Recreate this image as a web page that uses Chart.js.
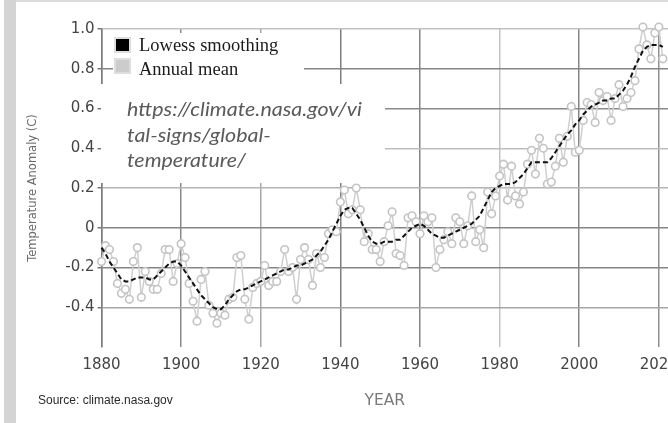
<!DOCTYPE html>
<html>
<head>
<meta charset="utf-8">
<script src="https://cdn.jsdelivr.net/npm/chart.js@4/dist/chart.umd.min.js"></script>
<style>
  html, body { margin: 0; padding: 0; background: #fff; overflow: hidden; width: 668px; height: 423px; }
  #wrap { position: relative; width: 720px; height: 423px; }
</style>
</head>
<body>
<div id="wrap"><canvas id="c" width="720" height="423"></canvas></div>
<script>
// Global land-ocean temperature anomaly (°C, relative to 1951-1980)
const years = [
  1880,1881,1882,1883,1884,1885,1886,1887,1888,1889,
  1890,1891,1892,1893,1894,1895,1896,1897,1898,1899,
  1900,1901,1902,1903,1904,1905,1906,1907,1908,1909,
  1910,1911,1912,1913,1914,1915,1916,1917,1918,1919,
  1920,1921,1922,1923,1924,1925,1926,1927,1928,1929,
  1930,1931,1932,1933,1934,1935,1936,1937,1938,1939,
  1940,1941,1942,1943,1944,1945,1946,1947,1948,1949,
  1950,1951,1952,1953,1954,1955,1956,1957,1958,1959,
  1960,1961,1962,1963,1964,1965,1966,1967,1968,1969,
  1970,1971,1972,1973,1974,1975,1976,1977,1978,1979,
  1980,1981,1982,1983,1984,1985,1986,1987,1988,1989,
  1990,1991,1992,1993,1994,1995,1996,1997,1998,1999,
  2000,2001,2002,2003,2004,2005,2006,2007,2008,2009,
  2010,2011,2012,2013,2014,2015,2016,2017,2018,2019,
  2020,2021
];

const annualMean = [
  -0.17,-0.09,-0.11,-0.17,-0.28,-0.33,-0.31,-0.36,-0.17,-0.10,
  -0.35,-0.22,-0.27,-0.31,-0.31,-0.23,-0.11,-0.11,-0.27,-0.18,
  -0.08,-0.15,-0.28,-0.37,-0.47,-0.26,-0.22,-0.39,-0.43,-0.48,
  -0.43,-0.44,-0.36,-0.35,-0.15,-0.14,-0.36,-0.46,-0.30,-0.28,
  -0.27,-0.19,-0.29,-0.27,-0.27,-0.22,-0.11,-0.22,-0.20,-0.36,
  -0.16,-0.10,-0.16,-0.29,-0.13,-0.20,-0.15,-0.03,-0.01,-0.02,
   0.13, 0.19, 0.07, 0.09, 0.20, 0.09,-0.07,-0.03,-0.11,-0.11,
  -0.17,-0.07, 0.01, 0.08,-0.13,-0.14,-0.19, 0.05, 0.06, 0.03,
  -0.03, 0.06, 0.03, 0.05,-0.20,-0.11,-0.06,-0.02,-0.08, 0.05,
   0.03,-0.08, 0.01, 0.16,-0.07,-0.01,-0.10, 0.18, 0.07, 0.16,
   0.26, 0.32, 0.14, 0.31, 0.16, 0.12, 0.18, 0.32, 0.39, 0.27,
   0.45, 0.40, 0.22, 0.23, 0.31, 0.45, 0.33, 0.46, 0.61, 0.38,
   0.39, 0.54, 0.63, 0.62, 0.53, 0.68, 0.64, 0.66, 0.54, 0.65,
   0.72, 0.61, 0.65, 0.68, 0.74, 0.90, 1.01, 0.92, 0.85, 0.98,
   1.01, 0.85
];

const lowess = [
  -0.10,-0.13,-0.17,-0.20,-0.23,-0.26,-0.27,-0.27,-0.26,-0.25,
  -0.25,-0.25,-0.26,-0.26,-0.24,-0.22,-0.20,-0.18,-0.17,-0.17,
  -0.19,-0.22,-0.25,-0.28,-0.31,-0.34,-0.36,-0.38,-0.40,-0.41,
  -0.41,-0.39,-0.36,-0.34,-0.32,-0.31,-0.31,-0.30,-0.29,-0.28,
  -0.27,-0.26,-0.25,-0.24,-0.23,-0.22,-0.21,-0.21,-0.20,-0.19,
  -0.19,-0.18,-0.17,-0.16,-0.14,-0.12,-0.09,-0.06,-0.02, 0.02,
   0.06, 0.09, 0.10, 0.10, 0.07, 0.04, 0.00,-0.04,-0.07,-0.08,
  -0.08,-0.07,-0.07,-0.07,-0.06,-0.06,-0.04,-0.02, 0.00, 0.01,
   0.02, 0.01,-0.01,-0.03,-0.04,-0.05,-0.05,-0.04,-0.03,-0.02,
  -0.01, 0.00, 0.01, 0.02, 0.04, 0.06, 0.10, 0.14, 0.18, 0.20,
   0.21, 0.22, 0.22, 0.22, 0.23, 0.25, 0.27, 0.30, 0.33, 0.33,
   0.33, 0.33, 0.33, 0.35, 0.38, 0.41, 0.44, 0.47, 0.49, 0.52,
   0.54, 0.57, 0.59, 0.61, 0.62, 0.63, 0.64, 0.64, 0.65, 0.65,
   0.67, 0.69, 0.72, 0.76, 0.81, 0.85, 0.89, 0.91, 0.92, 0.92,
   0.92, 0.91
];

const xTickYears = [1880, 1900, 1920, 1940, 1960, 1980, 2000, 2020];
const yTickValues = [-0.4, -0.2, 0, 0.2, 0.4, 0.6, 0.8, 1.0];

const legendLabels = ['Lowess smoothing', 'Annual mean'];
const urlLines = ['https://climate.nasa.gov/vi', 'tal-signs/global-', 'temperature/'];
const sourceText = 'Source: climate.nasa.gov';

// grid line shading per tick (some lines print lighter than others)
const xGridShade = { 1880: '#7e7e7e', 1900: '#8a8a8a', 1920: '#a8a8a8', 1940: '#7e7e7e', 1960: '#858585', 1980: '#c4c4c4', 2000: '#858585', 2020: '#909090' };
const yGridShade = { '-0.4': '#a6a6a6', '-0.2': '#858585', '0': '#858585', '0.2': '#b4b4b4', '0.4': '#bdbdbd', '0.6': '#8a8a8a', '0.8': '#858585', '1': '#c2c2c2' };

const toPoints = vals => years.map((yr, i) => ({ x: yr, y: vals[i] }));

const decorations = {
  id: 'decorations',
  beforeDraw(chart) {
    const c = chart.ctx;
    c.save();
    c.fillStyle = '#ffffff';
    c.fillRect(0, 0, chart.width, chart.height);
    c.fillStyle = '#d4d4d4';
    c.fillRect(4, 0, 12, chart.height);
    c.fillStyle = '#dcdcdc';
    c.fillRect(16, 0, chart.width - 16, 2);
    c.restore();
  },
  beforeDatasetsDraw(chart) {
    const c = chart.ctx;
    c.save();
    // legend panel
    c.fillStyle = '#ffffff';
    c.fillRect(113, 33, 191, 51);
    // note panel
    c.fillRect(101, 84, 284, 99);

    // legend swatches
    c.fillStyle = '#dedede';
    c.fillRect(114, 37, 17, 16);
    c.fillRect(114, 58, 17, 16);
    c.fillStyle = '#000000';
    c.fillRect(116, 39, 13, 12);
    c.fillStyle = '#cccccc';
    c.fillRect(116, 60, 13, 12);

    c.fillStyle = '#1a1a1a';
    c.font = '18.5px "Liberation Serif"';
    c.textBaseline = 'middle';
    c.textAlign = 'left';
    c.fillText(legendLabels[0], 139, 46);
    c.fillText(legendLabels[1], 139, 70);

    // note text
    c.fillStyle = '#5a5a5a';
    c.font = 'italic 19px Lato';
    const w = c.measureText(urlLines[0]).width;
    const sx = w > 0 ? Math.min(1.3, 235 / w) : 1;
    c.save();
    c.translate(127, 0);
    c.scale(sx, 1);
    c.fillText(urlLines[0], 0, 110);
    c.fillText(urlLines[1], 0, 136);
    c.fillText(urlLines[2], 0, 161);
    c.restore();
    c.restore();
  },
  afterDraw(chart) {
    const c = chart.ctx;
    c.save();
    c.fillStyle = '#2a2a2a';
    c.font = '12px "Liberation Sans"';
    c.textBaseline = 'middle';
    c.textAlign = 'left';
    c.fillText(sourceText, 38, 401);
    c.restore();
  }
};

new Chart(document.getElementById('c'), {
  type: 'line',
  data: {
    datasets: [
      {
        label: legendLabels[0],
        data: toPoints(lowess),
        borderColor: '#111111',
        borderWidth: 2,
        borderDash: [5, 3],
        pointRadius: 0,
        fill: false,
        tension: 0,
        clip: false,
        order: 0
      },
      {
        label: legendLabels[1],
        data: toPoints(annualMean),
        borderColor: '#cfcfcf',
        borderWidth: 1.5,
        pointRadius: 3.8,
        pointBorderWidth: 1.6,
        pointBackgroundColor: '#ffffff',
        pointBorderColor: '#c4c4c4',
        fill: false,
        tension: 0,
        clip: false,
        order: 1
      }
    ]
  },
  options: {
    responsive: false,
    animation: false,
    devicePixelRatio: 1,
    layout: { padding: { top: 29, left: 0, right: 52, bottom: 0 } },
    plugins: { legend: { display: false }, tooltip: { enabled: false } },
    scales: {
      x: {
        type: 'linear',
        min: 1880,
        max: 2022.3,
        afterBuildTicks: s => { s.ticks = xTickYears.map(v => ({ value: v })); },
        afterFit: s => { s.height = 76; },
        grid: {
          color: ctx => xGridShade[ctx.tick && ctx.tick.value] || '#8a8a8a',
          lineWidth: 1.5,
          drawTicks: false
        },
        border: { display: false },
        ticks: {
          padding: 9,
          color: '#444444',
          font: { family: 'DejaVu Sans', size: 15 },
          maxRotation: 0,
          autoSkip: false,
          callback: v => String(v)
        },
        title: {
          display: true,
          text: 'YEAR',
          color: '#7a7a7a',
          font: { family: 'DejaVu Sans', size: 15.5 },
          padding: { top: 0, bottom: 13 }
        }
      },
      y: {
        type: 'linear',
        min: -0.6,
        max: 1.0,
        afterBuildTicks: s => { s.ticks = yTickValues.map(v => ({ value: v })); },
        afterFit: s => { s.width = 101.5; },
        grid: {
          color: ctx => yGridShade[ctx.tick ? String(Math.round(ctx.tick.value * 10) / 10) : ''] || '#8a8a8a',
          lineWidth: 1.5,
          tickLength: 4,
          tickColor: '#777777'
        },
        border: { display: true, color: '#7e7e7e', width: 1.5 },
        ticks: {
          padding: 3,
          color: '#444444',
          font: { family: 'DejaVu Sans', size: 15 },
          callback: v => (Math.abs(v) < 1e-9 ? '0' : v.toFixed(1))
        },
        title: {
          display: true,
          text: 'Temperature Anomaly (C)',
          color: '#6a6a6a',
          font: { family: 'DejaVu Sans', size: 11.5 },
          padding: { top: 26, bottom: 0 }
        }
      }
    }
  },
  plugins: [decorations]
});
</script>
</body>
</html>
